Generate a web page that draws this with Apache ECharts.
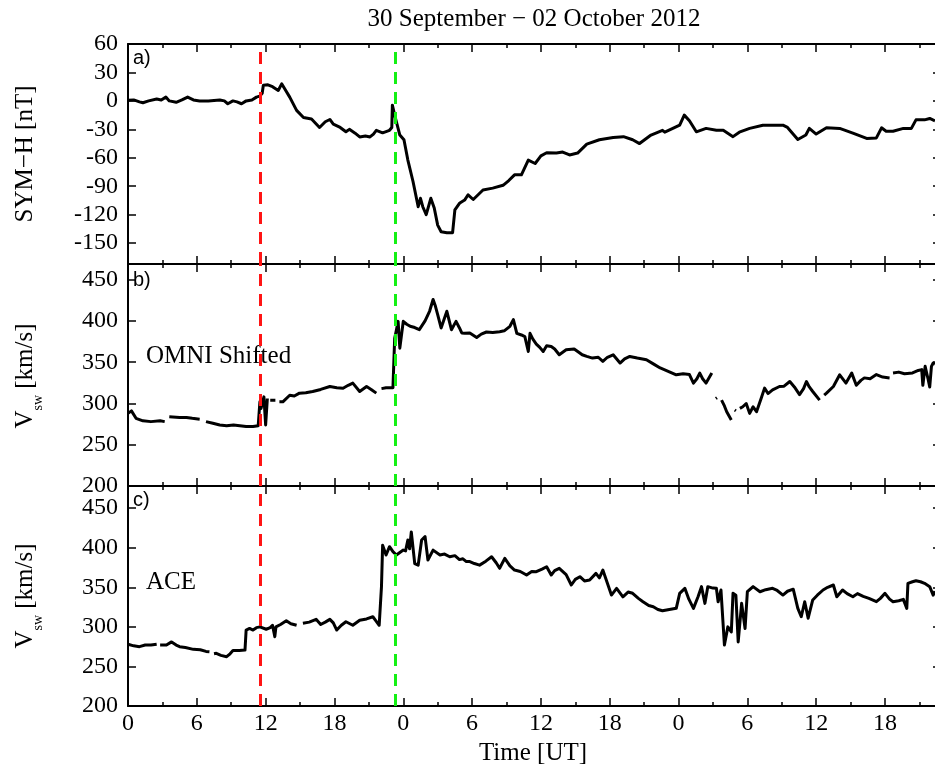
<!DOCTYPE html>
<html><head><meta charset="utf-8">
<script src="https://cdn.jsdelivr.net/npm/echarts@6/dist/echarts.min.js"></script>
<style>html,body{margin:0;padding:0;background:#fff}#c{width:935px;height:769px}</style>
</head><body><div id="c"></div>
<script>
// ---------- data ----------
const titleText = '30 September \u2212 02 October 2012';
const xTitle = 'Time [UT]';
const panelTags = ['a)', 'b)', 'c)'];
const symhName = 'SYM\u2212H [nT]';
const vswNameMain = 'V';
const vswNameSub = 'sw';
const vswNameUnit = ' [km/s]';
const omniLabel = 'OMNI Shifted';
const aceLabel = 'ACE';

const xMajorHours = [0, 6, 12, 18, 24, 30, 36, 42, 48, 54, 60, 66];
const xMinorHours = [3, 9, 15, 21, 27, 33, 39, 45, 51, 57, 63, 69];
const symhTicks = [-150, -120, -90, -60, -30, 0, 30, 60];
const vswTicks = [200, 250, 300, 350, 400, 450];
const redLineHour = 11.57;
const greenLineHour = 23.31;

// [hour since 30 Sep 00 UT, SYM-H nT]
const symhData = [
[0,0.7],[0.5,1],[1.0,-1],[1.3,-2],[1.8,0],[2.5,2],[2.9,1],[3.3,4],[3.6,0],[4.2,-1.5],[4.7,1],[5.2,4],[5.7,1],[6.25,0],[7.0,0],[8.0,1],[8.4,0],[8.7,-3],[9.15,0],[9.5,-1],[9.9,-3],[10.3,0],[10.8,1],[11.2,4],[11.48,5],[11.7,8],[11.8,16.5],[12.2,17],[12.6,15],[13.1,11],[13.4,18],[13.7,12],[14.1,4],[14.7,-10],[15.3,-17.5],[16.0,-19],[16.7,-28],[17.2,-22],[17.6,-19.6],[17.9,-24.6],[18.5,-28],[19.0,-32.6],[19.3,-30],[19.8,-34],[20.2,-38],[20.7,-37],[21.1,-38],[21.4,-35],[21.65,-31],[22.2,-33.7],[22.8,-31],[23.0,-28],[23.05,-4.5],[23.25,-15],[23.7,-36],[24.06,-41],[24.4,-62.4],[24.85,-85],[25.3,-111.6],[25.5,-102.7],[25.7,-111.6],[26.0,-120],[26.4,-102.7],[26.7,-113],[27.0,-131],[27.3,-138],[27.8,-139],[28.3,-139],[28.5,-115],[28.9,-108],[29.35,-104.6],[29.65,-99],[30.1,-104],[30.95,-94],[31.8,-92],[32.7,-89],[33.2,-84],[33.7,-78],[34.3,-78],[34.9,-62.5],[35.5,-66],[36.0,-58],[36.5,-54.7],[37.35,-55],[37.9,-54],[38.5,-57],[39.2,-55],[40.0,-45.6],[41.1,-41],[42.3,-38.6],[43.2,-37.7],[44.0,-41],[44.6,-45],[45.6,-36],[46.6,-31],[46.8,-33],[47.5,-29],[48.1,-25.6],[48.5,-15],[48.95,-21],[49.55,-32.6],[50.4,-29],[51.3,-31],[51.9,-31],[52.75,-37.7],[53.3,-33],[54.2,-29],[55.35,-25.6],[57.1,-25.6],[57.5,-28],[58.4,-40.7],[59.1,-36],[59.4,-29],[60.0,-35],[60.9,-28.4],[62.05,-29],[63.2,-34],[64.4,-39.6],[65.25,-39],[65.7,-28.4],[66.1,-32],[66.7,-32],[67.6,-29],[68.3,-29],[68.7,-20],[69.45,-20],[69.9,-18.5],[70.36,-21]
];

// [hour, OMNI shifted Vsw km/s]  (null = data gap)
const omniData = [
[0,288],[0.3,291],[0.7,282],[1.3,279],[2.0,278],[2.8,279],[3.2,278],[3.4,null],[3.6,284],[4.5,283],[5.1,283],[5.6,282],[6.25,281],[6.5,null],[6.8,278],[7.4,276],[8.0,274],[8.6,273],[9.2,274],[9.75,273],[10.3,272],[10.9,272],[11.35,273],[11.5,302],[11.6,294],[11.85,308],[12.0,274],[12.15,306],[12.3,null],[12.4,304],[12.85,304],[13.0,null],[13.2,302],[13.5,302],[14.1,310],[14.5,309],[14.95,312.5],[15.5,313],[16.1,314.5],[16.8,317],[17.6,320.5],[18.2,319],[18.75,318.5],[19.2,322],[19.6,324.7],[20.2,314.5],[20.8,320.5],[21.2,317],[21.65,312.5],[21.9,null],[22.1,318],[22.5,319],[23.1,319],[23.25,379],[23.4,389],[23.55,399.5],[23.7,367],[24.0,399.5],[24.3,396],[24.6,393.5],[25.0,392],[25.4,389.4],[25.9,400],[26.3,412],[26.6,426],[26.8,418],[27.0,407.7],[27.3,391.5],[27.8,411.7],[28.2,389.4],[28.6,399.5],[28.9,391.5],[29.1,385.4],[29.35,385],[29.8,385.4],[30.4,380],[30.8,384],[31.25,386.6],[31.8,386],[32.4,387],[32.8,388],[33.3,393.5],[33.6,401.6],[33.9,385],[34.3,383],[34.6,381],[34.9,363],[35.05,385],[35.3,378],[35.6,372],[35.9,368],[36.2,363],[36.5,370],[36.9,369],[37.2,366],[37.6,359],[38.2,365],[38.9,366],[39.3,362],[39.6,359],[40.0,357],[40.5,355],[41.0,356],[41.4,351],[41.8,356],[42.3,359],[42.9,349],[43.3,354],[43.75,357],[44.4,355],[45.2,353],[45.8,348],[46.4,343],[47.1,339],[47.8,334.7],[48.4,336],[48.95,335],[49.3,324.7],[49.6,330],[49.85,336.8],[50.1,330],[50.4,324.7],[50.9,336.8],[51.1,null],[51.25,306],[51.35,307],[51.5,null],[51.75,304],[52.0,297],[52.2,290],[52.6,280],[52.75,null],[52.9,292],[53.0,291],[53.15,null],[53.35,294],[53.6,296],[53.9,300],[54.2,288],[54.5,296],[54.8,290],[55.2,306],[55.5,318.6],[55.8,312],[56.2,316.5],[56.8,320.6],[57.2,321],[57.7,326.6],[58.1,320],[58.55,310.8],[58.9,318],[59.15,326.6],[59.4,320],[59.7,314.5],[60.3,304],[60.5,null],[60.7,310],[60.9,312.5],[61.5,320.6],[62.05,334.7],[62.6,324.7],[63.1,336.8],[63.5,322],[63.9,328],[64.2,331],[64.7,330],[65.25,335],[65.8,332],[66.4,331],[66.55,null],[66.7,337],[67.2,338],[67.7,336],[68.4,337],[68.9,340],[69.2,341],[69.3,322],[69.4,320.6],[69.5,345],[69.6,346.9],[69.75,330],[69.9,320],[70.05,345],[70.2,349],[70.36,348]
];

// [hour, ACE Vsw km/s]
const aceData = [
[0,278],[0.5,276],[1.0,275],[1.5,277],[2.0,277],[2.5,278],[2.65,null],[2.8,277],[3.35,277],[3.8,281],[4.2,277],[4.5,275],[5.0,274],[5.7,271.6],[6.3,271],[6.8,269],[7.1,268.6],[7.3,null],[7.5,266],[7.7,266.6],[8.1,264],[8.6,262.3],[8.9,266],[9.15,270],[9.7,270],[10.2,270.7],[10.3,296],[10.6,298],[10.9,296],[11.2,299],[11.5,300],[12.05,297],[12.4,299],[12.6,302],[12.8,287.6],[12.9,300],[13.3,303],[13.8,307.8],[14.2,304],[14.7,302],[14.9,null],[15.25,304.5],[15.8,306],[16.4,309.5],[16.8,303],[17.2,306],[17.6,309.5],[17.9,305],[18.2,296],[18.6,302],[19.0,306.5],[19.6,302],[20.2,308.4],[20.8,310],[21.35,312.8],[21.6,308],[21.9,302],[22.1,350.8],[22.2,403],[22.5,390.8],[22.8,401.3],[23.1,395],[23.4,390.8],[23.7,394],[24.0,397],[24.2,396],[24.4,409.7],[24.55,398.7],[24.7,420],[25.0,380],[25.3,378],[25.6,409.7],[25.9,414],[26.15,384.5],[26.6,397],[27.2,390.8],[27.6,392],[28.05,388.6],[28.5,390],[28.9,385],[29.2,386],[29.5,382.5],[29.8,382.5],[30.2,380],[30.65,378],[31.2,383],[31.7,388.6],[32.1,381],[32.4,374],[32.85,386.6],[33.3,377],[33.7,371.8],[34.2,370],[34.75,365.5],[35.2,370],[35.6,369.7],[36.1,373],[36.5,376],[36.9,365.5],[37.2,371],[37.6,374],[38.2,366],[38.65,352.9],[39.0,360],[39.4,363.4],[39.8,358],[40.25,359.2],[40.8,367.6],[41.1,362],[41.4,371.8],[41.7,359.2],[42.15,340.2],[42.6,348.7],[43.15,338],[43.6,344],[44.0,342.4],[44.5,336],[44.9,331.8],[45.4,327],[45.8,325.5],[46.2,322],[46.6,320.4],[47.2,322],[47.8,323.4],[48.1,342.4],[48.55,348.7],[48.9,335],[49.3,323.4],[49.7,338],[50.0,350.8],[50.3,329.7],[50.55,350.8],[51.0,349],[51.3,348.7],[51.45,331.7],[51.7,346.6],[52.0,277],[52.3,300],[52.6,293.5],[52.75,342.4],[53.0,340],[53.2,281],[53.5,329.7],[53.8,298],[54.0,344.4],[54.5,350.8],[55.1,344.4],[55.6,347],[56.2,348.7],[56.6,346],[57.1,340.2],[57.5,345],[58.0,347.6],[58.4,323.4],[58.7,312.8],[59.0,331.7],[59.3,311],[59.7,334],[60.1,340],[60.6,346.6],[61.0,350],[61.5,352.9],[61.8,338],[62.3,346.6],[62.7,342],[63.2,338],[63.6,342],[64.1,338.6],[64.6,336],[65.25,331.8],[65.6,336],[66.0,342.4],[66.4,335],[66.7,331.8],[67.2,333],[67.6,334.7],[67.9,323.4],[68.0,355],[68.4,357],[68.7,358.3],[69.1,357],[69.45,355],[69.9,350.8],[70.2,340],[70.36,345]
];

// ---------- layout / style ----------
const SERIF = '"Liberation Serif","Times New Roman",serif';
const SANS = '"Liberation Sans",Arial,sans-serif';
const X_MAX = 70.36;
const GL = 128, GW = 807;
const grids = [
  {left: GL, top: 44, width: GW, height: 220},
  {left: GL, top: 264, width: GW, height: 222},
  {left: GL, top: 486, width: GW, height: 220}
];
const yRanges = [[-172, 60], [200, 469], [200, 478]];
const yTickSets = [symhTicks, vswTicks, vswTicks];

const xAxes = [], yAxes = [];
grids.forEach((g, i) => {
  ['bottom', 'top'].forEach(pos => {
    xAxes.push({
      type: 'value', gridIndex: i, position: pos, min: 0, max: X_MAX,
      axisLine: {show: true, onZero: false, lineStyle: {color: '#000', width: 2}},
      axisTick: {show: true, inside: true, length: 8, customValues: xMajorHours,
        lineStyle: {color: '#000', width: 1.5}},
      splitLine: {show: false},
      axisLabel: {show: i === 2 && pos === 'bottom', customValues: xMajorHours,
        formatter: v => String(Math.round(v) % 24),
        fontFamily: SERIF, fontSize: 24, color: '#000', margin: 6}
    });
    xAxes.push({
      type: 'value', gridIndex: i, position: pos, min: 0, max: X_MAX,
      axisLine: {show: false, onZero: false},
      axisTick: {show: true, inside: true, length: 4, customValues: xMinorHours,
        lineStyle: {color: '#000', width: 1.5}},
      splitLine: {show: false},
      axisLabel: {show: false}
    });
  });
  ['left', 'right'].forEach(pos => {
    yAxes.push({
      type: 'value', gridIndex: i, position: pos, min: yRanges[i][0], max: yRanges[i][1],
      axisLine: {show: pos === 'left', onZero: false, lineStyle: {color: '#000', width: 2}},
      axisTick: {show: true, inside: true, length: pos === 'left' ? 8 : 2,
        customValues: yTickSets[i], lineStyle: {color: '#000', width: 1.5}},
      splitLine: {show: false},
      axisLabel: {show: pos === 'left', customValues: yTickSets[i],
        fontFamily: SERIF, fontSize: 24, color: '#000', margin: 10}
    });
  });
});

function vLines() {
  return {
    silent: true, symbol: ['none', 'none'], animation: false,
    label: {show: false},
    data: [
      {xAxis: redLineHour, lineStyle: {color: '#ff1414', type: [12, 8], width: 3}},
      {xAxis: greenLineHour, lineStyle: {color: '#14f014', type: [12, 8], width: 3}}
    ]
  };
}

const seriesData = [symhData, omniData, aceData];
const series = seriesData.map((d, i) => ({
  type: 'line', xAxisIndex: i * 4, yAxisIndex: i * 2, data: d,
  showSymbol: false, connectNulls: false, silent: true,
  lineStyle: {color: '#000', width: 3, join: 'round'},
  markLine: vLines(), z: 3
}));

function vswRich(x, y) {
  return {type: 'text', x: x, y: y, rotation: Math.PI / 2, silent: true,
    style: {text: '{m|' + vswNameMain + '}{s|' + vswNameSub + '}{m|' + vswNameUnit + '}',
      rich: {m: {fontSize: 25, fontFamily: SERIF, lineHeight: 41, fill: '#000'},
             s: {fontSize: 14, fontFamily: SERIF, lineHeight: 14, verticalAlign: 'bottom', fill: '#000'}},
      align: 'center', verticalAlign: 'middle', textAlign: 'center', textVerticalAlign: 'middle', fill: '#000'}};
}
function txt(x, y, s, size, fam, align) {
  return {type: 'text', x: x, y: y, silent: true,
    style: {text: s, fontSize: size, fontFamily: fam, fill: '#000',
      align: align, verticalAlign: 'middle', textAlign: align, textVerticalAlign: 'middle'}};
}

const graphic = [
  txt(534, 19, titleText, 25, SERIF, 'center'),
  {type: 'text', x: 25, y: 154, rotation: Math.PI / 2, silent: true,
   style: {text: symhName, fontSize: 25, fontFamily: SERIF, fill: '#000',
     align: 'center', verticalAlign: 'middle', textAlign: 'center', textVerticalAlign: 'middle'}},
  vswRich(25, 376),
  vswRich(25, 596),
  txt(133, 58.5, panelTags[0], 20, SANS, 'left'),
  txt(133, 280, panelTags[1], 20, SANS, 'left'),
  txt(133, 500, panelTags[2], 20, SANS, 'left'),
  txt(146, 356, omniLabel, 25, SERIF, 'left'),
  txt(146, 582, aceLabel, 25, SERIF, 'left'),
  txt(533, 753, xTitle, 25, SERIF, 'center')
];

const chart = echarts.init(document.getElementById('c'), null, {renderer: 'canvas'});
chart.setOption({
  animation: false,
  backgroundColor: '#fff',
  grid: grids,
  xAxis: xAxes,
  yAxis: yAxes,
  series: series,
  graphic: graphic
});
</script>
</body></html>
